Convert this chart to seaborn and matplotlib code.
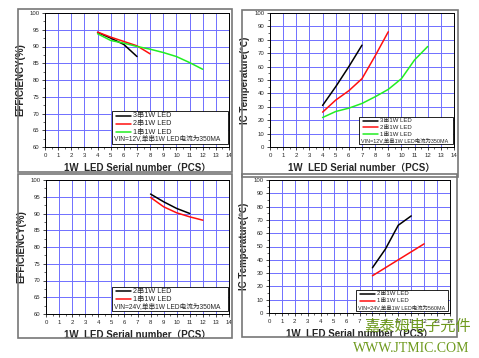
import numpy as np
import pandas as pd
import seaborn as sns
import matplotlib
matplotlib.use("Agg")
import matplotlib.pyplot as plt
from matplotlib.patches import Rectangle
from matplotlib.ticker import MultipleLocator

sns.set_theme(style="white")
plt.rcParams['font.family'] = ['Liberation Sans', 'Noto Sans CJK SC', 'DejaVu Sans']

# ---------------- data ----------------
# Panel 1: efficiency, VIN=12V
eff12_x3 = [4, 5, 6, 7]
eff12_y3 = [94.2, 92.5, 90.6, 87.0]
eff12_x2 = [4, 5, 6, 7, 8]
eff12_y2 = [94.3, 92.8, 91.5, 90.2, 87.8]
eff12_x1 = [4, 5, 6, 7, 8, 9, 10, 11, 12]
eff12_y1 = [93.8, 91.8, 91.0, 90.0, 89.2, 88.2, 87.0, 85.2, 83.2]

# Panel 2: IC temperature, VIN=12V
tmp12_x3 = [4, 5, 6, 7]
tmp12_y3 = [31, 45, 60, 76]
tmp12_x2 = [4, 5, 6, 7, 8, 9]
tmp12_y2 = [26, 35, 42, 51, 68, 86]
tmp12_x1 = [4, 5, 6, 7, 8, 9, 10, 11, 12]
tmp12_y1 = [22, 26.5, 29, 32.5, 37.5, 43, 51, 65, 75]

# Panel 3: efficiency, VIN=24V
eff24_x2 = [8, 9, 10, 11]
eff24_y2 = [95.8, 93.5, 91.5, 90.0]
eff24_x1 = [8, 9, 10, 11, 12]
eff24_y1 = [94.8, 92.0, 90.2, 89.0, 88.0]

# Panel 4: IC temperature, VIN=24V
tmp24_x2 = [8, 9, 10, 11]
tmp24_y2 = [34, 48, 66, 73]
tmp24_x1 = [8, 9, 10, 11, 12]
tmp24_y1 = [28, 34, 40, 46, 52]

lab3 = "3串1W LED"
lab2 = "2串1W LED"
lab1 = "1串1W LED"
note12 = "VIN=12V,单串1W LED电流为350MA"
note24 = "VIN=24V,单串1W LED电流为350MA"
note24b = "VIN=24V,单串1W LED电流为560MA"
xlabel = "1W  LED Serial number（PCS）"
ylab_eff = "EFFICIENCY(%)"
ylab_tmp = "IC Temperature(℃)"

line_colors = ["black", "#ff1010", "#22ee22"]

W, H = 479, 358
fig = plt.figure(figsize=(W / 100, H / 100), dpi=100)

def fr(l, t, r, b):
    return [l / W, 1 - b / H, (r - l) / W, (b - t) / H]

# panel frames (decoration)
for (l, t, r, b) in [(18, 9, 232, 172), (242, 10, 458, 177), (18, 174, 232, 338), (242, 174, 457, 337)]:
    fig.patches.append(Rectangle((l / W, 1 - b / H), (r - l) / W, (b - t) / H,
                                 transform=fig.transFigure, fill=False,
                                 edgecolor="#777777", linewidth=1.2))

def make_df(series):
    rows = []
    for lab, xs, ys in series:
        for x, y in zip(xs, ys):
            rows.append({"x": x, "y": y, "s": lab})
    return pd.DataFrame(rows)

def panel(rect, series, ylim, ystep, ylab, note, legbox, fs_leg):
    ax = fig.add_axes(fr(*rect))
    df = make_df(series)
    order = [s[0] for s in series]
    pal = {lab: line_colors[i] for i, lab in enumerate(order)}
    sns.lineplot(data=df, x="x", y="y", hue="s", hue_order=order,
                 palette=pal, ax=ax, linewidth=1.1, legend=False)
    ax.set_xlim(0, 14)
    ax.set_ylim(*ylim)
    ax.xaxis.set_major_locator(MultipleLocator(1))
    ax.xaxis.set_minor_locator(MultipleLocator(0.5))
    ax.yaxis.set_major_locator(MultipleLocator(ystep))
    ax.yaxis.set_minor_locator(MultipleLocator(ystep / 2))
    ax.grid(True, which="major", color="#6f6fff", linewidth=0.7)
    ax.set_axisbelow(True)
    ax.tick_params(which="major", direction="out", length=2.5, width=0.6,
                   labelsize=4.3, pad=1.5, bottom=True, left=True)
    ax.tick_params(which="minor", direction="out", length=1.5, width=0.5,
                   bottom=True, left=True)
    for sp in ax.spines.values():
        sp.set_color("black")
        sp.set_linewidth(0.7)
    ax.set_xlabel(xlabel, fontsize=7, fontweight="bold", labelpad=4)
    ax.set_ylabel(ylab, fontsize=7, fontweight="bold", labelpad=3)
    # legend box
    l, t, r, b = legbox
    x0, x1 = (l - rect[0]) / (rect[2] - rect[0]), (r - rect[0]) / (rect[2] - rect[0])
    y0, y1 = (rect[3] - b) / (rect[3] - rect[1]), (rect[3] - t) / (rect[3] - rect[1])
    ax.add_patch(Rectangle((x0, y0), x1 - x0, y1 - y0, transform=ax.transAxes,
                           facecolor="white", edgecolor="black", linewidth=0.6, zorder=5))
    n = len(series)
    hh = (y1 - y0) / (n + 1)
    for i, lab in enumerate(order):
        yy = y1 - hh * (i + 0.55)
        ax.plot([x0 + 0.02, x0 + 0.105], [yy, yy], transform=ax.transAxes,
                color=pal[lab], linewidth=1.1, zorder=6)
        ax.text(x0 + 0.115, yy, lab, transform=ax.transAxes, fontsize=fs_leg,
                va="center", ha="left", zorder=6)
    ax.text(x0 + 0.012, y1 - hh * (n + 0.5), note, transform=ax.transAxes,
            fontsize=fs_leg - 0.4, va="center", ha="left", zorder=6)
    return ax

panel((45, 13, 229, 147),
      [(lab3, eff12_x3, eff12_y3), (lab2, eff12_x2, eff12_y2), (lab1, eff12_x1, eff12_y1)],
      (60, 100), 5, ylab_eff, note12, (112, 111, 228, 144), 5.2)
panel((270, 13, 454, 147),
      [(lab3, tmp12_x3, tmp12_y3), (lab2, tmp12_x2, tmp12_y2), (lab1, tmp12_x1, tmp12_y1)],
      (0, 100), 10, ylab_tmp, note12, (359, 117, 453, 144), 4.3)
panel((46, 180, 229, 314),
      [(lab2, eff24_x2, eff24_y2), (lab1, eff24_x1, eff24_y1)],
      (60, 100), 5, ylab_eff, note24, (112, 287, 228, 311), 5.2)
panel((269, 180, 450, 313),
      [(lab2, tmp24_x2, tmp24_y2), (lab1, tmp24_x1, tmp24_y1)],
      (0, 100), 10, ylab_tmp, note24b, (356, 290, 448, 311), 4.3)

# watermark
wm_color = "#6e9a1e"
fig.text(471 / W, 1 - 326 / H, "嘉泰姆电子元件", fontsize=11, color=wm_color,
         ha="right", va="center", family=["Noto Sans CJK SC", "DejaVu Sans"])
fig.text(469 / W, 1 - 348 / H, "WWW.JTMIC.COM", fontsize=10, color=wm_color,
         ha="right", va="center", family=["Liberation Serif", "DejaVu Serif"])

fig.savefig("out.png", dpi=100, facecolor="white")
